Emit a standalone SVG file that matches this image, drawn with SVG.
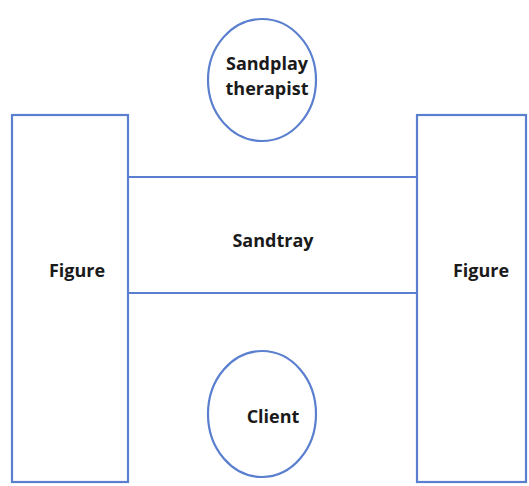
<svg xmlns="http://www.w3.org/2000/svg" width="529" height="486" viewBox="0 0 529 486">
<style>
.shape{fill:#ffffff;stroke:#5a7fcf;stroke-width:2.2}
.lbl{font-family:"Open Sans","Noto Sans","Liberation Sans",sans-serif;font-weight:bold;font-size:18px;fill:#1a1a1a;text-anchor:middle}
</style>
<rect width="529" height="486" fill="#ffffff"/>
<g id="connectors">
<line class="shape" x1="128" y1="177" x2="417" y2="177"/>
<line class="shape" x1="128" y1="293" x2="417" y2="293"/>
</g>
<g id="sandtray">
<text class="lbl" x="273" y="247">Sandtray</text>
</g>
<g id="figure-left">
<rect class="shape" x="12" y="115" width="116" height="367"/>
<text class="lbl" x="77" y="277">Figure</text>
</g>
<g id="figure-right">
<rect class="shape" x="417" y="115" width="109" height="367"/>
<text class="lbl" x="481" y="277">Figure</text>
</g>
<g id="therapist">
<ellipse class="shape" cx="262" cy="80" rx="54" ry="61"/>
<text class="lbl" x="267" y="70">Sandplay</text>
<text class="lbl" x="267" y="95">therapist</text>
</g>
<g id="client">
<ellipse class="shape" cx="262" cy="414" rx="54" ry="63"/>
<text class="lbl" x="273" y="423">Client</text>
</g>
</svg>
